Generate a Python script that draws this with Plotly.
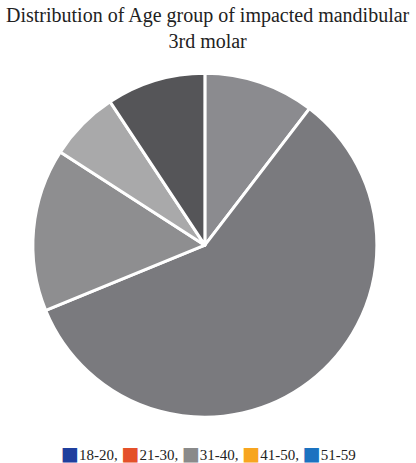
import plotly.graph_objects as go

categories = ["18-20", "21-30", "31-40", "41-50", "51-59"]
values = [10.4, 58.4, 15.3, 6.6, 9.3]
slice_colors = ["#8b8b8f", "#7a7a7e", "#8e8e90", "#a9a9aa", "#555558"]
legend_colors = ["#1f3f9e", "#e4512a", "#8a8a8a", "#f7a51f", "#1b72c0"]
title_text = "Distribution of Age group of impacted mandibular<br>3rd molar"

fig = go.Figure()
fig.add_trace(go.Pie(
    labels=categories,
    values=values,
    sort=False,
    direction="clockwise",
    rotation=0,
    textinfo="none",
    hoverinfo="label+value",
    marker=dict(colors=slice_colors, line=dict(color="white", width=3)),
    domain=dict(x=[0.079, 0.906], y=[0.099, 0.842]),
    showlegend=False,
))

# legend row built from the categories and legend colours
items = []
for i, (c, col) in enumerate(zip(categories, legend_colors)):
    sep = "," if i < len(categories) - 1 else ""
    items.append(
        f"<span style='color:{col};font-family:DejaVu Sans;font-size:19px'>■</span>{c}{sep}"
    )
legend_text = " ".join(items)

fig.add_annotation(
    text=legend_text,
    x=0.5, y=1 - 453 / 463, xref="paper", yref="paper",
    showarrow=False,
    font=dict(family="Liberation Serif", size=15, color="#222222"),
    xanchor="center", yanchor="middle",
)

fig.add_annotation(
    text=title_text,
    x=0.5, y=1 - 2 / 463, xref="paper", yref="paper",
    showarrow=False,
    font=dict(family="Liberation Serif", size=20, color="#222222"),
    xanchor="center", yanchor="top",
)

fig.update_layout(
    width=416, height=463,
    margin=dict(l=0, r=0, t=0, b=0),
    paper_bgcolor="white",
    plot_bgcolor="white",
)

fig.write_html("out.html")
